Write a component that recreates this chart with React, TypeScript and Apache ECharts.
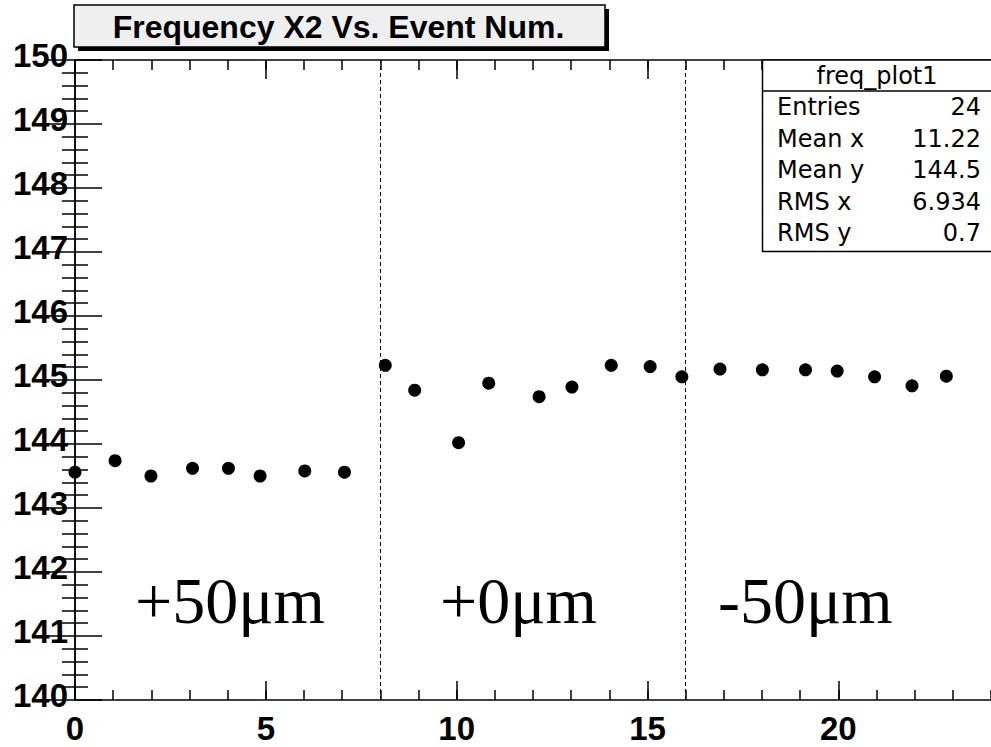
import React, { useEffect, useRef } from "react";
import * as echarts from "echarts";

const chartTitle = "Frequency X2 Vs. Event Num.";
const xValues = [0, 1.05, 1.99, 3.08, 4.02, 4.85, 6.02, 7.06, 8.13, 8.9, 10.05, 10.84, 12.16, 13.02, 14.05, 15.07, 15.9, 16.9, 18.01, 19.14, 19.97, 20.95, 21.93, 22.83];
const yValues = [143.56, 143.74, 143.5, 143.62, 143.62, 143.5, 143.58, 143.56, 145.23, 144.84, 144.02, 144.95, 144.74, 144.89, 145.23, 145.21, 145.05, 145.17, 145.16, 145.16, 145.14, 145.05, 144.91, 145.06];
const dividerX = [8, 16];
const regionLabels = ["+50μm", "+0μm", "-50μm"];
const statsTitle = "freq_plot1";
const statsNames = ["Entries", "Mean x", "Mean y", "RMS x", "RMS y"];
const statsValues = ["24", "11.22", "144.5", "6.934", "0.7"];

const SANS = "'Liberation Sans', Arial, Helvetica, sans-serif";
const STATS_FONT = "'DejaVu Sans', sans-serif";
const SERIF = "'Liberation Serif', 'Times New Roman', serif";

export default function App() {
  const ref = useRef<HTMLDivElement>(null);
  useEffect(() => {
    const chart = echarts.init(ref.current!, null, { renderer: "svg" });
    const black = "#000";
    const axisCommon = { min: 0, max: 24, type: "value" as const, splitLine: { show: false } };
    const regionX = [135, 440, 718];
    const statsRowY = [107, 138.5, 170, 201.5, 233];
    const graphic: any[] = [
      { type: "rect", z: 100, shape: { x: 78, y: 9, width: 531, height: 42 }, style: { fill: "#000" } },
      { type: "rect", z: 101, shape: { x: 74, y: 5, width: 531, height: 42 }, style: { fill: "#efefef", stroke: "#000", lineWidth: 1.5 } },
      { type: "text", z: 102, x: 338.5, y: 27, style: { text: chartTitle, fill: "#000", font: `bold 32px ${SANS}`, align: "center", verticalAlign: "middle" } },
      { type: "rect", z: 100, shape: { x: 762.5, y: 60, width: 240, height: 191.5 }, style: { fill: "#fff", stroke: "#000", lineWidth: 1.5 } },
      { type: "line", z: 101, shape: { x1: 762.5, y1: 91, x2: 1000, y2: 91 }, style: { stroke: "#000", lineWidth: 1.5 } },
      { type: "text", z: 102, x: 877, y: 76, style: { text: statsTitle, fill: "#000", font: `24px ${STATS_FONT}`, align: "center", verticalAlign: "middle" } },
    ];
    statsNames.forEach((n, i) => {
      graphic.push({ type: "text", z: 102, x: 777, y: statsRowY[i], style: { text: n, fill: "#000", font: `24px ${STATS_FONT}`, align: "left", verticalAlign: "middle" } });
      graphic.push({ type: "text", z: 102, x: 981, y: statsRowY[i], style: { text: statsValues[i], fill: "#000", font: `24px ${STATS_FONT}`, align: "right", verticalAlign: "middle" } });
    });
    regionLabels.forEach((t, i) => {
      graphic.push({ type: "text", z: 102, x: regionX[i], y: 600, style: { text: t, fill: "#000", font: `66px ${SERIF}`, align: "left", verticalAlign: "middle" } });
    });

    chart.setOption({
      animation: false,
      backgroundColor: "#fff",
      grid: { left: 75, top: 60, width: 918, height: 640, containLabel: false },
      xAxis: [
        {
          ...axisCommon, position: "bottom", interval: 5,
          axisLine: { show: true, lineStyle: { color: black, width: 1.5 } },
          axisTick: { show: true, inside: true, length: 19, lineStyle: { color: black, width: 1.5 } },
          axisLabel: { show: true, showMaxLabel: false, color: black, fontFamily: SANS, fontWeight: "bold", fontSize: 33, margin: 12 },
        },
        {
          ...axisCommon, position: "bottom", interval: 1,
          axisLine: { show: false },
          axisTick: { show: true, inside: true, length: 10, lineStyle: { color: black, width: 1.5 } },
          axisLabel: { show: false },
        },
        {
          ...axisCommon, position: "top", interval: 5,
          axisLine: { show: true, lineStyle: { color: black, width: 1.5 } },
          axisTick: { show: true, inside: true, length: 19, lineStyle: { color: black, width: 1.5 } },
          axisLabel: { show: false },
        },
        {
          ...axisCommon, position: "top", interval: 1,
          axisLine: { show: false },
          axisTick: { show: true, inside: true, length: 10, lineStyle: { color: black, width: 1.5 } },
          axisLabel: { show: false },
        },
      ],
      yAxis: [
        {
          type: "value", min: 140, max: 150, interval: 1, position: "left",
          splitLine: { show: false },
          axisLine: { show: true, lineStyle: { color: black, width: 1.5 } },
          axisTick: { show: true, inside: true, length: 27, lineStyle: { color: black, width: 1.5 } },
          minorTick: { show: true, splitNumber: 5, length: 13, lineStyle: { color: black, width: 1.5 } },
          axisLabel: { show: true, color: black, fontFamily: SANS, fontWeight: "bold", fontSize: 33, margin: 7, verticalAlign: "bottom", lineHeight: 10 },
        },
        {
          type: "value", min: 140, max: 150, interval: 1, position: "right",
          splitLine: { show: false },
          axisLine: { show: true, lineStyle: { color: black, width: 1.5 } },
          axisTick: { show: true, inside: true, length: 27, lineStyle: { color: black, width: 1.5 } },
          minorTick: { show: true, splitNumber: 5, length: 13, lineStyle: { color: black, width: 1.5 } },
          axisLabel: { show: false },
        },
      ],
      series: [
        {
          type: "scatter",
          xAxisIndex: 0,
          yAxisIndex: 0,
          symbol: "circle",
          symbolSize: 13,
          itemStyle: { color: "#000", opacity: 1 },
          data: xValues.map((x, i) => [x, yValues[i]]),
          markLine: {
            silent: true,
            symbol: "none",
            label: { show: false },
            lineStyle: { color: "#000", width: 1, type: [4, 3] },
            data: dividerX.map((v) => ({ xAxis: v })),
          },
        },
      ],
      graphic,
    });
    return () => chart.dispose();
  }, []);
  return (
    <div style={{ position: "fixed", left: 0, top: 0, width: 991, height: 747, overflow: "hidden", background: "#fff" }}>
      <div ref={ref} style={{ width: 991, height: 747 }} />
    </div>
  );
}
